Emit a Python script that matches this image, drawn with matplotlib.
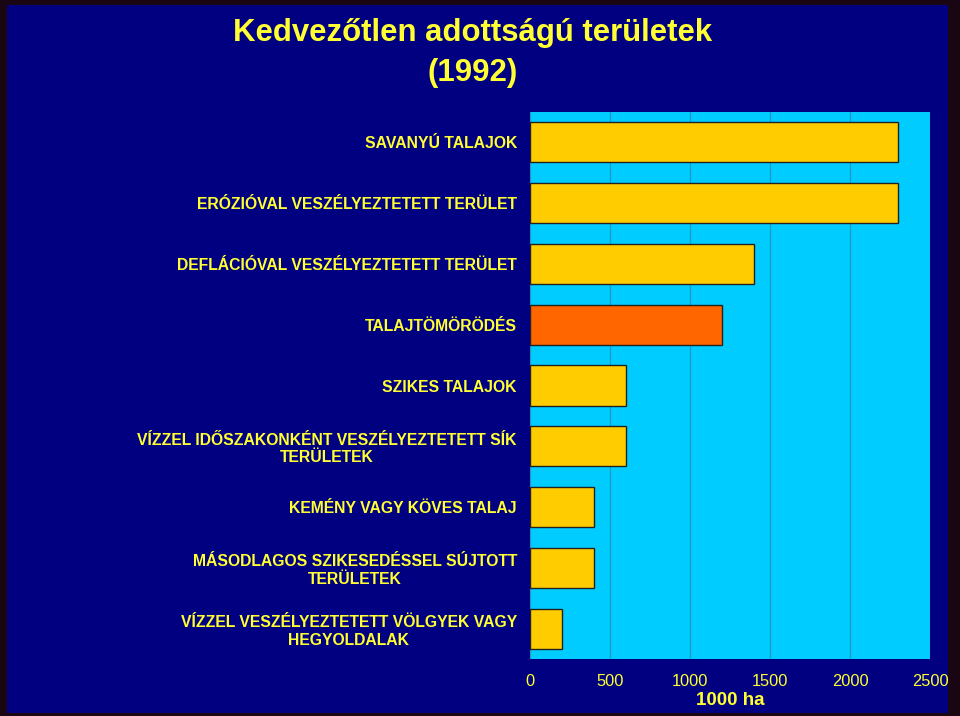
import matplotlib
matplotlib.use("Agg")
import matplotlib.pyplot as plt

categories = [
    "SAVANYÚ TALAJOK",
    "ERÓZIÓVAL VESZÉLYEZTETETT TERÜLET",
    "DEFLÁCIÓVAL VESZÉLYEZTETETT TERÜLET",
    "TALAJTÖMÖRÖDÉS",
    "SZIKES TALAJOK",
    "VÍZZEL IDŐSZAKONKÉNT VESZÉLYEZTETETT SÍK\nTERÜLETEK",
    "KEMÉNY VAGY KÖVES TALAJ",
    "MÁSODLAGOS SZIKESEDÉSSEL SÚJTOTT\nTERÜLETEK",
    "VÍZZEL VESZÉLYEZTETETT VÖLGYEK VAGY\nHEGYOLDALAK",
]
values = [2300, 2300, 1400, 1200, 600, 600, 400, 400, 200]
bar_colors = ["#FFCC00", "#FFCC00", "#FFCC00", "#FF6600", "#FFCC00",
              "#FFCC00", "#FFCC00", "#FFCC00", "#FFCC00"]
xticks = [0, 500, 1000, 1500, 2000, 2500]

plt.rcParams['font.family'] = ['Liberation Sans', 'DejaVu Sans']
YEL = "#FFFF33"

fig = plt.figure(figsize=(9.6, 7.16), dpi=100)
fig.patch.set_facecolor("#1a0612")
# navy slide background
bg = fig.add_axes([7/960, 3/716, (948-7)/960, (713-5)/716])
bg.set_zorder(0)
bg.set_facecolor("#000080")
bg.set_xticks([]); bg.set_yticks([])
for s in bg.spines.values():
    s.set_visible(False)

ax = fig.add_axes([530/960, 1-659/716, 400/960, (659-112)/716])
ax.set_zorder(2)
ax.set_facecolor("#00CCFF")
n = len(categories)
ypos = list(range(n))
ax.barh(ypos, values, height=0.66, color=bar_colors, edgecolor="#222222",
        linewidth=1, zorder=3)
ax.set_xlim(0, 2500)
ax.set_ylim(n - 0.5, -0.5)
ax.set_xticks(xticks)
ax.set_xticklabels([str(t) for t in xticks], color=YEL, fontsize=11.8)
ax.set_yticks(ypos)
ax.set_yticklabels(categories, color=YEL, fontsize=11.3, fontweight="bold",
                   multialignment="center", linespacing=1.2)
ax.tick_params(axis='both', length=0)
ax.tick_params(axis='y', pad=9.4)
ax.tick_params(axis='x', pad=11)
ax.xaxis.grid(True, color="#2496C4", linewidth=0.9, zorder=1)
ax.set_axisbelow(True)
for s in ax.spines.values():
    s.set_visible(False)
ax.set_xlabel("1000 ha", color=YEL, fontsize=13.5, fontweight="bold", labelpad=2)

fig.text(473/960, 1-33/716, "Kedvezőtlen adottságú területek", color=YEL,
         fontsize=22.4, fontweight="bold", ha="center", va="center", zorder=3)
fig.text(473/960, 1-73/716, "(1992)", color=YEL,
         fontsize=22.4, fontweight="bold", ha="center", va="center", zorder=3)

fig.savefig("out.png", dpi=100, facecolor=fig.get_facecolor())
